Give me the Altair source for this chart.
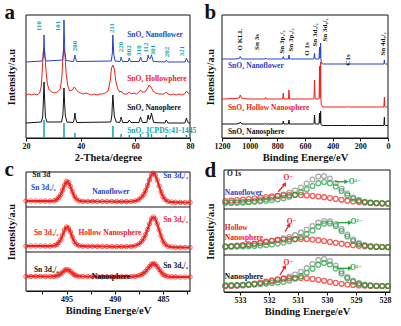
import altair as alt
import pandas as pd

FONT = "Liberation Serif, DejaVu Serif, serif"
BLUE, RED, BLACK = "#2444c6", "#f0201b", "#121212"
TEAL, GREEN, GREY = "#14a3a1", "#1ca43c", "#8a8a8a"
W, H = 401, 326

# ---------------- panel a : XRD ----------------
a_flower_x = [20, 25.9,
              26.3, 26.5, 26.6, 26.7, 26.9, 27.4,
              33.4, 33.7, 33.8, 33.9, 34.0, 34.2, 34.6,
              37.4, 37.8, 37.9, 38.0, 38.5,
              51.2, 51.6, 51.7, 51.8, 51.9, 52.1, 52.6,
              54.4, 54.7, 54.8, 54.9, 55.3,
              57.4, 57.7, 57.8, 57.9, 58.3,
              61.4, 61.8, 61.9, 62.0, 62.5,
              64.2, 64.6, 64.7, 64.9, 65.3, 65.7, 65.9, 66.1, 66.6,
              70.8, 71.2, 71.3, 71.4, 71.9,
              78.2, 78.6, 78.7, 78.8, 79.3, 80]
a_flower_y = [76, 77,
              81, 92, 103, 92, 81, 77,
              78, 88, 105, 118, 105, 86, 77.5,
              76.5, 81, 83, 81, 76.5,
              77, 85, 96, 103, 96, 84, 77,
              76.5, 79.5, 81, 79.5, 76.5,
              76.5, 79, 80, 79, 76.5,
              76.5, 80, 81, 80, 76.5,
              76.5, 81.5, 83, 80, 79, 81.5, 83, 81, 76.5,
              76, 77.5, 78, 77.5, 76,
              76, 79, 80, 79, 76, 76]

a_hollow_x = [20, 21, 22, 23, 24, 25,
              25.6, 26.0, 26.3, 26.6, 26.9, 27.3, 27.8, 28.5,
              29.5, 30.5, 31.5, 32.5,
              33.1, 33.5, 33.9, 34.3, 34.7, 35.3,
              36.0, 37.0, 37.6, 38.0, 38.5, 39.2,
              40, 41, 42, 43, 44, 45, 46, 47, 48, 49, 50,
              50.8, 51.3, 51.8, 52.3, 52.9, 53.6,
              54.3, 54.8, 55.3, 56, 57, 57.8, 58.5, 59.5, 60.5,
              61.3, 61.9, 62.5, 63.5, 64.3, 65.0, 65.7, 66.5, 67.5,
              68.5, 69.5, 70.5, 71.3, 72, 73, 74, 75, 76, 77, 78, 78.7, 79.3, 80]
a_hollow_y = [43, 44, 43, 44, 43, 45,
              52, 70, 86, 90, 84, 68, 54, 48,
              46, 45, 46, 49,
              60, 80, 90, 82, 64, 52,
              47, 48, 51, 50, 48, 46,
              45, 44, 45, 44, 43, 44, 43, 44, 44, 45, 47,
              57, 70, 73, 69, 56, 49,
              46, 47, 45, 44, 44, 46, 44, 45, 44,
              46, 48, 46, 46, 49, 53, 51, 47, 45,
              44, 44, 44, 46, 44, 43, 44, 43, 44, 43, 44, 47, 45, 44]

a_nano_x = [20, 25.6,
            26.1, 26.4, 26.6, 26.8, 27.1, 27.7,
            33.0, 33.5, 33.7, 33.9, 34.1, 34.4, 35.0,
            37.3, 37.7, 37.9, 38.1, 38.6,
            51.0, 51.4, 51.6, 51.8, 52.0, 52.3, 53.0,
            54.3, 54.6, 54.8, 55.0, 55.4,
            57.3, 57.6, 57.8, 58.0, 58.4,
            61.3, 61.7, 61.9, 62.1, 62.6,
            64.2, 64.5, 64.7, 65.0, 65.3, 65.6, 65.9, 66.2, 66.7,
            70.8, 71.1, 71.3, 71.5, 71.9,
            78.1, 78.5, 78.7, 78.9, 79.4, 80]
a_nano_y = [15, 16,
            21, 40, 56, 40, 21, 16,
            16, 23, 36, 50, 36, 22, 16,
            15.5, 20, 25, 20, 15.5,
            16, 22, 34, 43, 34, 22, 16,
            15.5, 18.5, 21, 18.5, 15.5,
            15.5, 17, 18, 17, 15.5,
            15.5, 19, 21, 19, 15.5,
            15.5, 20, 23, 19, 18.5, 21, 25, 21, 15.5,
            15, 17, 18, 17, 15,
            15, 18, 20, 18, 15, 15]

jcpds_pos = [26.6, 33.9, 37.9, 51.8, 54.8, 57.8, 61.9, 64.7, 65.9, 71.3, 78.7]
jcpds_h = [18, 15, 5, 12, 4, 3, 4, 5, 4, 3, 3]

hkl_text = ["110", "101", "200", "211", "220", "002", "310", "112", "301", "202", "321"]
hkl_x = [24.9, 31.8, 37.9, 51.6, 54.65, 57.8, 61.3, 63.9, 66.6, 71.5, 77.0]
hkl_y = [112, 112, 92, 110, 91, 87.5, 87.5, 90.5, 88, 86, 87]

a_lab_text = ["SnO₂ Nanoflower", "SnO₂ Hollowphere", "SnO₂ Nanophere", "SnO₂ JCPDS:41-1445"]
a_lab_x = [57.0, 57.0, 57.0, 57.0]
a_lab_y = [103, 59, 30, 7]
a_lab_c = [BLUE, RED, BLACK, TEAL]

# ---------------- panel b : XPS survey ----------------
b_x = [1200, 1100, 1075, 1068, 1062, 1055, 1000, 890, 885, 880,
       780, 762, 757, 752, 720, 716, 712, 700, 600, 540,
       535, 531, 527, 520, 500, 498, 495, 493, 490, 487,
       485, 482, 470, 400, 300, 288, 285, 282, 200, 100,
       30, 26, 24, 20, 0]
b_flower = [79, 79, 79.5, 81.5, 80, 79, 79, 79, 80, 79,
            79, 79, 81.5, 79, 79, 83, 79, 79, 79, 79,
            80, 85, 79, 79, 79, 80, 91, 80, 80, 95,
            79, 75, 74, 74, 74, 74, 75, 74, 74, 74,
            74, 78, 74.5, 74, 74]
b_hollow = [39, 39.5, 40, 43, 41, 39.5, 39, 39, 40.5, 39,
            39, 39, 45, 39, 39, 48, 39, 39, 39, 39,
            40, 58, 39, 39, 39, 40, 72, 40, 40, 76,
            39, 33, 31, 31, 31, 31, 31.5, 31, 31, 31,
            31, 41, 31.5, 31, 31]
b_sphere = [14, 14, 14.5, 16, 14.5, 14, 14, 14, 14.5, 14,
            14, 14, 17, 14, 14, 18, 14, 14, 14, 14,
            14.5, 23, 14, 14, 14, 15, 25, 15, 15, 27,
            14, 13, 12.5, 12.5, 12.5, 12.5, 13, 12.5, 12.5, 12.5,
            12.5, 21, 13, 12.5, 12.5]

b_peak_text = ["O KLL", "Sn 3s", "Sn 3p₁/₂", "Sn 3p₃/₂", "O 1s", "Sn 3d₃/₂", "Sn 3d₅/₂", "C1s", "Sn 4d₅/₂"]
b_peak_x = [1070, 947, 766, 701, 585, 528, 455, 289, 36]
b_peak_y = [98.5, 96, 96, 98, 89, 103, 108, 78, 94]

b_lab_text = ["SnO₂ Nanoflower", "SnO₂ Hollow Nanosphere", "SnO₂ Nanosphere"]
b_lab_x = [1157, 1157, 1157]
b_lab_y = [72, 30, 6.5]
b_lab_c = [BLUE, RED, BLACK]

# ---------------- panel c : Sn 3d ----------------
c_x = [499.2, 498.7, 498.2, 497.7, 497.2, 496.7, 496.3, 496.0, 495.8, 495.6,
       495.4, 495.2, 495.0, 494.8, 494.6, 494.4, 494.2, 494.0, 493.7, 493.3,
       492.8, 492.3, 491.8, 491.3, 490.8, 490.3, 489.8, 489.3, 488.8, 488.3,
       487.9, 487.5, 487.2, 487.0, 486.8, 486.6, 486.4, 486.2, 486.0, 485.8,
       485.6, 485.4, 485.2, 485.0, 484.8, 484.5, 484.1, 483.7, 483.2, 482.7,
       482.2]
c_flower = [90.0, 90.0, 90.0, 89.9, 89.9, 89.9, 90.3, 91.5, 93.5, 96.5,
            101.0, 106.0, 109.5, 108.5, 104.5, 99.5, 95.0, 92.0, 90.3, 89.7,
            89.6, 89.6, 89.5, 89.5, 89.5, 89.5, 89.4, 89.4, 89.4, 89.5,
            90.0, 91.5, 94.0, 96.5, 100.5, 105.5, 111.0, 116.0, 117.8, 116.0,
            111.0, 105.0, 99.0, 94.5, 91.5, 89.5, 88.9, 88.7, 88.6, 88.5,
            88.5]
c_hollow = [45.0, 45.0, 45.0, 45.0, 44.9, 44.9, 45.3, 46.5, 48.5, 51.5,
            56.0, 61.0, 64.0, 63.0, 59.0, 54.0, 49.5, 46.8, 45.3, 44.8,
            44.7, 44.6, 44.6, 44.5, 44.5, 44.4, 44.4, 44.4, 44.4, 44.6,
            45.2, 47.0, 49.5, 52.5, 56.5, 61.5, 67.0, 72.0, 74.0, 72.0,
            67.0, 61.0, 55.0, 50.0, 47.0, 44.8, 44.0, 43.7, 43.6, 43.5,
            43.5]
c_sphere = [14.6, 14.6, 14.6, 14.6, 14.5, 14.5, 14.7, 15.2, 16.0, 17.2,
            18.8, 20.6, 21.5, 21.0, 19.6, 17.8, 16.3, 15.3, 14.7, 14.5,
            14.4, 14.4, 14.4, 14.3, 14.3, 14.3, 14.3, 14.3, 14.3, 14.4,
            14.7, 15.4, 16.5, 17.8, 19.6, 21.9, 24.5, 26.7, 27.5, 26.7,
            24.4, 21.6, 19.0, 16.8, 15.4, 14.5, 14.2, 14.1, 14.0, 14.0,
            14.0]
c_sep = [84, 39]
c_lab_text = ["Sn 3d", "Sn 3d₃/₂", "Nanoflower", "Sn 3d₅/₂",
              "Sn 3d₃/₂", "Hollow Nanosphere", "Sn 3d₅/₂",
              "Sn 3d₃/₂", "Nanosphere", "Sn 3d₅/₂"]
c_lab_x = [497.6, 497.4, 490.4, 483.7, 497.1, 490.5, 483.7, 497.1, 490.4, 483.7]
c_lab_y = [116, 103, 99, 115, 58, 58, 71, 21, 14, 25]
c_lab_c = [BLACK, BLUE, BLUE, BLUE, RED, RED, RED, BLACK, BLACK, BLACK]

# ---------------- panel d : O 1s ----------------
d_x = [533.5, 533.3, 533.1, 532.9, 532.7, 532.5, 532.3, 532.1, 531.9, 531.7,
       531.5, 531.3, 531.1, 530.9, 530.7, 530.5, 530.3, 530.1, 529.9, 529.7,
       529.5, 529.3, 529.1, 528.9, 528.7, 528.5, 528.3, 528.1, 527.9]
d_flower_raw = [89.0, 89.0, 89.2, 89.5, 90.0, 90.8, 91.8, 93.0, 94.3, 95.8,
                97.5, 99.3, 101.5, 104.5, 108.5, 112.5, 115.5, 116.0, 113.5, 109.0,
                103.5, 98.5, 94.5, 91.8, 90.2, 89.3, 88.9, 88.7, 88.5]
d_flower_lat = [89.5, 89.6, 89.7, 89.9, 90.1, 90.4, 90.8, 91.3, 91.9, 92.7,
                93.8, 95.3, 97.3, 99.8, 102.8, 106.0, 108.8, 110.0, 108.8, 105.5,
                101.0, 96.8, 93.5, 91.3, 90.0, 89.3, 88.9, 88.7, 88.6]
d_flower_vac = [91.0, 91.4, 91.9, 92.4, 93.0, 93.6, 94.3, 95.0, 95.6, 96.2,
                96.6, 96.9, 97.0, 96.9, 96.6, 96.1, 95.5, 94.8, 94.0, 93.1,
                92.2, 91.3, 90.5, 89.9, 89.4, 89.0, 88.8, 88.6, 88.5]
d_hollow_raw = [45.3, 45.5, 45.9, 46.4, 47.0, 47.8, 48.8, 50.0, 51.2, 52.4,
                53.6, 55.0, 56.8, 59.3, 62.5, 66.0, 69.3, 71.0, 70.6, 67.8,
                63.0, 57.5, 52.5, 49.0, 47.0, 45.9, 45.3, 45.0, 44.9]
d_hollow_lat = [45.2, 45.3, 45.4, 45.6, 45.8, 46.1, 46.5, 47.0, 47.6, 48.4,
                49.4, 50.8, 52.6, 55.0, 58.0, 61.5, 65.3, 68.3, 68.6, 66.0,
                61.0, 55.5, 51.0, 48.0, 46.3, 45.5, 45.1, 45.0, 44.9]
d_hollow_vac = [45.5, 45.9, 46.4, 47.0, 47.7, 48.5, 49.4, 50.3, 51.1, 51.8,
                52.4, 52.8, 53.0, 53.0, 52.8, 52.4, 51.8, 51.0, 50.1, 49.2,
                48.3, 47.5, 46.8, 46.2, 45.7, 45.3, 45.1, 45.0, 44.9]
d_sphere_raw = [6.0, 6.1, 6.3, 6.6, 7.0, 7.6, 8.4, 9.4, 10.6, 12.0,
                13.6, 15.4, 17.5, 20.2, 23.8, 28.0, 31.8, 33.0, 31.0, 26.5,
                20.5, 15.0, 11.2, 8.8, 7.4, 6.6, 6.2, 6.0, 6.0]
d_sphere_lat = [6.8, 6.9, 7.0, 7.2, 7.4, 7.7, 8.0, 8.4, 8.9, 9.5,
                10.3, 11.5, 13.3, 15.8, 19.2, 23.2, 27.3, 29.0, 27.5, 23.5,
                18.5, 13.8, 10.3, 8.2, 7.0, 6.4, 6.1, 6.0, 6.0]
d_sphere_vac = [6.0, 6.2, 6.5, 7.0, 7.6, 8.4, 9.4, 10.5, 11.6, 12.6,
                13.3, 13.8, 14.0, 14.0, 13.7, 13.1, 12.2, 11.2, 10.1, 9.1,
                8.2, 7.5, 7.0, 6.6, 6.3, 6.1, 6.0, 6.0, 6.0]
d_sep = [83, 37]
d_lab_text = ["O 1s", "Nanoflower", "Hollow", "Nanosphere", "Nanosphere",
              "O⁻", "O⁻", "O⁻", "O²⁻", "O²⁻", "O²⁻"]
d_lab_x = [533.45, 533.52, 533.52, 533.52, 533.52,
           531.33, 531.22, 531.33, 529.04, 528.98, 529.0]
d_lab_y = [118, 99, 63.7, 53.7, 14.7, 113.7, 70.3, 29.3, 110.3, 70.3, 23.7]
d_lab_c = [BLACK, BLUE, RED, RED, BLACK, RED, RED, RED, GREEN, GREEN, GREEN]
red_arrow_x0 = [531.68, 531.45, 531.62]
red_arrow_y0 = [100.3, 60.3, 17.0]
red_arrow_x1 = [531.45, 531.30, 531.45]
red_arrow_y1 = [108.0, 67.0, 25.3]
green_arrow_x0 = [529.73, 529.67, 529.67]
green_arrow_x1 = [529.33, 529.21, 529.21]
green_arrow_y = [110.3, 69.3, 23.7]

# ---------------- helpers ----------------
def panel(xdom, xrng, ydom, yrng, xvals, xtitle, tpad, label_expr=None):
    extra = {"labelExpr": label_expr} if label_expr else {}
    ax = alt.Axis(orient="bottom", offset=yrng[0] - H, values=xvals, title=xtitle,
                  format="d", grid=False, labelFlush=False, labelOverlap=False, tickSize=3,
                  labelPadding=1, titlePadding=2, labelFont=FONT, labelFontSize=8,
                  labelFontWeight="bold", titleFont=FONT, titleFontSize=10.5,
                  titleFontWeight="bold", domainColor=BLACK, tickColor=BLACK,
                  labelColor=BLACK, titleColor=BLACK, **extra)
    ay = alt.Axis(orient="left", offset=-min(xrng), title="Intensity/a.u", labels=False,
                  ticks=False, domain=False, grid=False, titlePadding=tpad,
                  titleFont=FONT, titleFontSize=10.5, titleFontWeight="bold",
                  titleColor=BLACK)
    sx = alt.Scale(domain=xdom, range=xrng, nice=False, zero=False)
    sy = alt.Scale(domain=ydom, range=yrng, nice=False, zero=False)
    X = lambda f="x": alt.X(f"{f}:Q", scale=sx, axis=ax)
    Y = lambda f="y": alt.Y(f"{f}:Q", scale=sy, axis=ay)
    frame = alt.Chart(pd.DataFrame({"x": [xdom[0]], "x2": [xdom[1]], "y": [ydom[0]], "y2": [ydom[1]]})
                      ).mark_rect(fill="white", fillOpacity=0, stroke=BLACK, strokeWidth=1
                      ).encode(x=X(), x2="x2:Q", y=Y(), y2="y2:Q")
    return X, Y, frame


def xy(xs, ys):
    return pd.DataFrame({"x": xs, "y": ys})


def labels(X, Y, xs, ys, ts, cs, size=7.5, angle=None, align="center"):
    kw = dict(font=FONT, fontWeight="bold", fontSize=size, baseline="middle", align=align)
    if angle is not None:
        kw["angle"] = angle
    df = pd.DataFrame({"x": xs, "y": ys, "t": ts, "c": cs})
    return alt.Chart(df).mark_text(**kw).encode(
        x=X(), y=Y(), text="t:N", color=alt.Color("c:N", scale=None))


# ---------------- panel a ----------------
Xa, Ya, frame_a = panel([20, 80], [26, 190], [0, 123], [138, 15], [20, 40, 60, 80],
                        "2-Theta/degree", 10)
sticks = alt.Chart(pd.DataFrame({"x": jcpds_pos, "y": [0] * len(jcpds_pos), "y2": jcpds_h})
                   ).mark_rule(color=TEAL, strokeWidth=1.5).encode(x=Xa(), y=Ya(), y2="y2:Q")
pa = alt.layer(
    frame_a,
    sticks,
    alt.Chart(xy(a_nano_x, a_nano_y)).mark_line(color=BLACK, strokeWidth=1).encode(x=Xa(), y=Ya()),
    alt.Chart(xy(a_hollow_x, a_hollow_y)).mark_line(color=RED, strokeWidth=1).encode(x=Xa(), y=Ya()),
    alt.Chart(xy(a_flower_x, a_flower_y)).mark_line(color=BLUE, strokeWidth=1).encode(x=Xa(), y=Ya()),
    labels(Xa, Ya, hkl_x, hkl_y, hkl_text, [TEAL] * len(hkl_text), size=7, angle=270),
    labels(Xa, Ya, a_lab_x, a_lab_y, a_lab_text, a_lab_c, align="left"),
)

# ---------------- panel b ----------------
Xb, Yb, frame_b = panel([0, 1200], [388, 222], [0, 123], [138, 15],
                        [1200, 1000, 800, 600, 400, 200, 0], "Binding Energe/eV", 7)
pb = alt.layer(
    frame_b,
    alt.Chart(xy(b_x, b_sphere)).mark_line(color=BLACK, strokeWidth=1).encode(x=Xb(), y=Yb()),
    alt.Chart(xy(b_x, b_hollow)).mark_line(color=RED, strokeWidth=1).encode(x=Xb(), y=Yb()),
    alt.Chart(xy(b_x, b_flower)).mark_line(color=BLUE, strokeWidth=1).encode(x=Xb(), y=Yb()),
    labels(Xb, Yb, b_peak_x, b_peak_y, b_peak_text, [BLACK] * len(b_peak_text), size=7, angle=270),
    labels(Xb, Yb, b_lab_x, b_lab_y, b_lab_text, b_lab_c, align="left"),
)

# ---------------- panel c ----------------
Xc, Yc, frame_c = panel([482.2, 499.2], [190, 26], [0, 119], [291, 172],
                        [497.5, 495, 492.5, 490, 487.5, 485, 482.5], "Binding Energe/eV", 10,
                        label_expr="datum.value % 5 === 0 ? datum.label : ''")
sep_c = alt.Chart(pd.DataFrame({"x": [482.2] * 2, "x2": [499.2] * 2, "y": c_sep})
                  ).mark_rule(color=BLACK, strokeWidth=1).encode(x=Xc(), x2="x2:Q", y=Yc())
c_layers = [frame_c, sep_c]
for ys in (c_flower, c_hollow, c_sphere):
    d = xy(c_x, ys)
    c_layers.append(alt.Chart(d).mark_line(color=RED, strokeWidth=2.2, interpolate="catmull-rom").encode(x=Xc(), y=Yc()))
    c_layers.append(alt.Chart(d).mark_point(color=RED, filled=False, size=20, strokeWidth=1).encode(x=Xc(), y=Yc()))
c_layers.append(labels(Xc, Yc, c_lab_x, c_lab_y, c_lab_text, c_lab_c))
pc = alt.layer(*c_layers)

# ---------------- panel d ----------------
Xd, Yd, frame_d = panel([527.83, 533.55], [390, 224], [0, 122], [292, 170],
                        [533, 532, 531, 530, 529, 528], "Binding Energe/eV", 9)
sep_d = alt.Chart(pd.DataFrame({"x": [527.83] * 2, "x2": [533.55] * 2, "y": d_sep})
                  ).mark_rule(color=BLACK, strokeWidth=1).encode(x=Xd(), x2="x2:Q", y=Yd())
d_layers = [frame_d, sep_d]
for raw, vac, lat in ((d_flower_raw, d_flower_vac, d_flower_lat),
                      (d_hollow_raw, d_hollow_vac, d_hollow_lat),
                      (d_sphere_raw, d_sphere_vac, d_sphere_lat)):
    for ys, col in ((raw, GREY), (vac, RED), (lat, GREEN)):
        d_layers.append(alt.Chart(xy(d_x, ys)).mark_point(color=col, filled=False, size=24, strokeWidth=1.3)
                        .encode(x=Xd(), y=Yd()))
ra = pd.DataFrame({"x": red_arrow_x0 + red_arrow_x1, "y": red_arrow_y0 + red_arrow_y1,
                   "g": [0, 1, 2, 0, 1, 2]})
ga = pd.DataFrame({"x": green_arrow_x0 + green_arrow_x1, "y": green_arrow_y * 2,
                   "g": [0, 1, 2, 0, 1, 2]})
d_layers += [
    alt.Chart(ra).mark_line(color=RED, strokeWidth=1.3).encode(x=Xd(), y=Yd(), detail="g:N"),
    alt.Chart(xy(red_arrow_x1, red_arrow_y1)).mark_point(shape="triangle-up", angle=35, filled=True,
                                                           size=22, color=RED, opacity=1).encode(x=Xd(), y=Yd()),
    alt.Chart(ga).mark_line(color=GREEN, strokeWidth=1.3).encode(x=Xd(), y=Yd(), detail="g:N"),
    alt.Chart(xy(green_arrow_x1, green_arrow_y)).mark_point(shape="triangle-right", filled=True,
                                                              size=22, color=GREEN, opacity=1).encode(x=Xd(), y=Yd()),
]
d_layers.append(labels(Xd, Yd, d_lab_x[:5], d_lab_y[:5], d_lab_text[:5], d_lab_c[:5], align="left"))
d_layers.append(labels(Xd, Yd, d_lab_x[5:], d_lab_y[5:], d_lab_text[5:], d_lab_c[5:]))
pd_ = alt.layer(*d_layers)

# ---------------- panel letters ----------------
letter_t = ["a", "b", "c", "d"]
letter_px = [4.5, 204.5, 4.5, 204.5]
letter_py = [18.5, 18.5, 176, 177]
letters = alt.layer(*[
    alt.Chart(pd.DataFrame({"t": [t]})).mark_text(font=FONT, fontWeight="bold", fontSize=21,
                                                  align="left", baseline="alphabetic", color=BLACK)
    .encode(x=alt.value(px), y=alt.value(py), text="t:N")
    for t, px, py in zip(letter_t, letter_px, letter_py)
])

chart = alt.layer(pa, pb, pc, pd_, letters).resolve_scale(
    x="independent", y="independent"
).properties(
    width=W, height=H, padding=0, background="white",
    autosize=alt.AutoSizeParams(type="none"),
).configure_view(stroke="transparent")

chart.save("out.html", embed_options={"renderer": "svg", "actions": False})
